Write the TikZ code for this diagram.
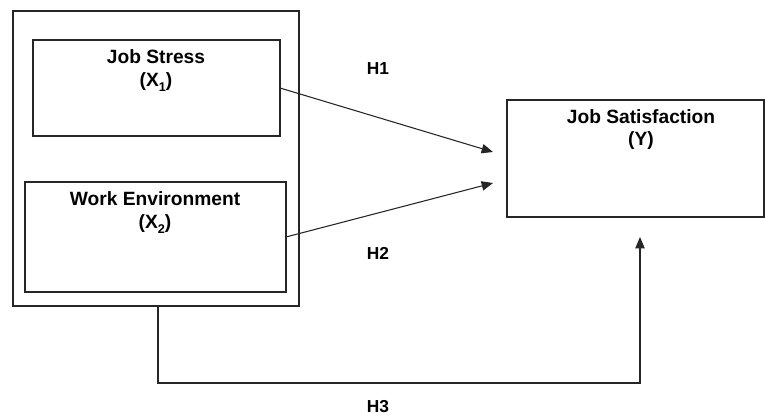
\documentclass[tikz,border=0pt]{standalone}
\usepackage{fontspec}
\setmainfont{Liberation Sans}
\usetikzlibrary{arrows.meta}
\newcommand{\mysub}[1]{\raisebox{-0.45ex}{\fontsize{9.5}{10}\selectfont #1}}
\tikzset{
  box/.style={draw=black!85, line width=0.8pt, inner sep=0pt, outer sep=0pt, rectangle},
  lbl/.style={font=\fontsize{14.4}{16}\selectfont\bfseries, anchor=base, inner sep=0pt},
  hlbl/.style={font=\fontsize{13}{15}\selectfont\bfseries, anchor=base, inner sep=0pt},
  conn/.style={draw=black!85, line width=0.8pt, -{Triangle[length=8.5pt,width=7pt]}}
}
\begin{document}
\begin{tikzpicture}[x=0.75pt,y=-0.75pt]
\useasboundingbox (0,0) rectangle (765,416);
% boxes
\node[box, minimum width=214.5pt, minimum height=221.25pt] (outer) at (156,158.5) {};
\node[box, minimum width=185.25pt, minimum height=72pt] (b1) at (156.5,88) {};
\node[box, minimum width=195.75pt, minimum height=82.5pt] (b2) at (155.5,237) {};
\node[box, minimum width=192.75pt, minimum height=87.75pt] (by) at (635.5,158.5) {};
% texts
\node[lbl] (t1a) at (156,64) {Job Stress};
\node[lbl] (t1b) at (156,87) {(X\mysub{1})};
\node[lbl] (t2a) at (155,206) {Work Environment};
\node[lbl] (t2b) at (155,229) {(X\mysub{2})};
\node[lbl] (tya) at (641,124) {Job Satisfaction};
\node[lbl] (tyb) at (641,146) {(Y)};
\node[hlbl] (h1) at (378,75) {H1};
\node[hlbl] (h2) at (378,260) {H2};
\node[hlbl] (h3) at (378,413) {H3};
% connector endpoints
\coordinate (e1) at (493,152);
\coordinate (e2) at (493,183);
\coordinate (s3) at (158,306);
\coordinate (c3) at (158,383);
\coordinate (e3) at (640,237);
% connectors
\draw[conn] (b1.east) -- (e1);
\draw[conn] (b2.east) -- (e2);
\draw[conn] (s3) -- (c3) -| (e3);
\end{tikzpicture}
\end{document}
